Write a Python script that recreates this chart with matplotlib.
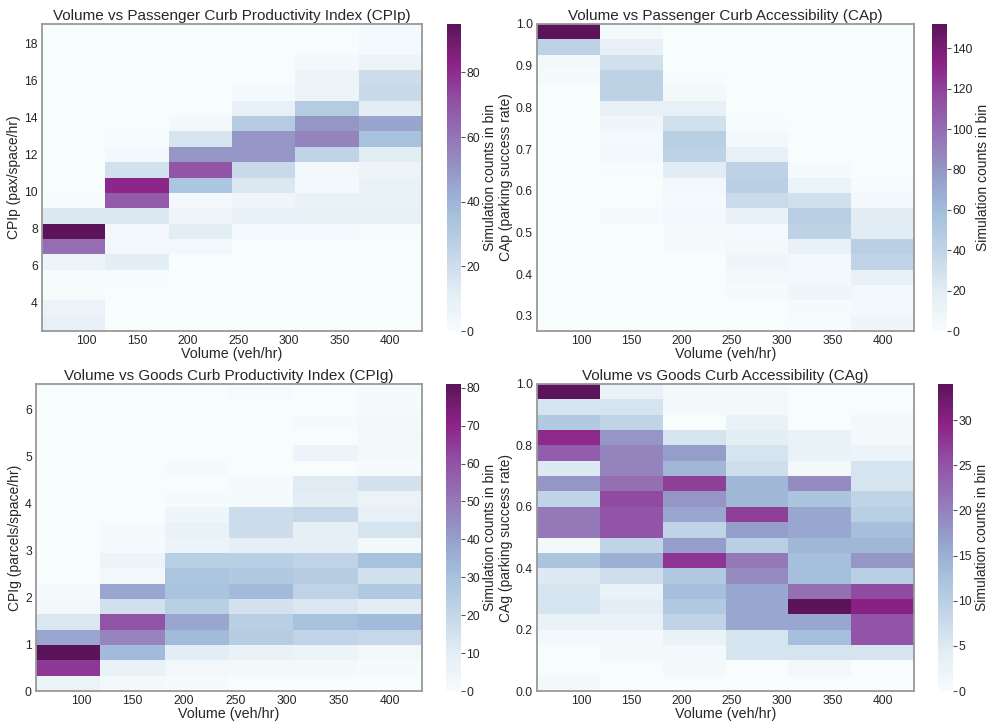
import numpy as np
import matplotlib
matplotlib.use('Agg')
import matplotlib.pyplot as plt

plt.rcParams['font.family'] = ['Liberation Sans', 'DejaVu Sans']
plt.rcParams['text.color'] = '#262626'
plt.rcParams['axes.labelcolor'] = '#262626'
plt.rcParams['xtick.color'] = '#262626'
plt.rcParams['ytick.color'] = '#262626'

# volume bins (veh/hr) - 6 columns
vol_range = (56.25, 431.25)
vol_ticks = [100, 150, 200, 250, 300, 350, 400]

# counts per bin, rows listed top -> bottom, columns = volume bins
cpip_counts = [
    [0, 0, 0, 0, 0, 2],
    [0, 0, 0, 0, 0, 2],
    [0, 0, 0, 0, 3, 6],
    [0, 0, 0, 0, 6, 20],
    [0, 0, 0, 2, 6, 22],
    [0, 0, 0, 10, 30, 12],
    [0, 0, 3, 30, 50, 45],
    [0, 1, 17, 50, 56, 35],
    [0, 3, 50, 50, 25, 12],
    [0, 18, 70, 22, 4, 6],
    [0, 82, 33, 15, 3, 8],
    [1, 68, 4, 5, 8, 8],
    [15, 15, 5, 10, 9, 9],
    [95, 4, 12, 2, 2, 1],
    [62, 4, 4, 0, 0, 0],
    [6, 11, 0, 0, 0, 0],
    [1, 1, 0, 0, 0, 0],
    [1, 0, 0, 0, 0, 0],
    [7, 0, 0, 0, 0, 0],
    [10, 0, 0, 0, 0, 0],
]
cpip_range = (2.45, 19.07)

cap_counts = [
    [152, 4, 0, 0, 0, 0],
    [42, 15, 0, 0, 0, 0],
    [4, 30, 0, 0, 0, 0],
    [2, 42, 1, 0, 0, 0],
    [0, 42, 4, 0, 0, 0],
    [0, 15, 15, 0, 0, 0],
    [0, 8, 30, 1, 0, 0],
    [0, 3, 45, 4, 0, 0],
    [0, 5, 42, 15, 0, 0],
    [0, 1, 20, 42, 2, 0],
    [0, 0, 6, 45, 12, 1],
    [0, 0, 3, 35, 30, 5],
    [0, 2, 6, 14, 45, 20],
    [0, 0, 2, 3, 42, 20],
    [0, 0, 2, 4, 14, 45],
    [0, 0, 0, 8, 5, 40],
    [0, 0, 0, 4, 6, 15],
    [0, 0, 0, 2, 8, 6],
    [0, 0, 0, 0, 2, 5],
    [0, 0, 0, 0, 1, 8],
]
cap_range = (0.264, 1.0)

cpig_counts = [
    [0, 0, 0, 1, 0, 1],
    [0, 0, 0, 0, 0, 1],
    [0, 0, 0, 0, 1, 2],
    [0, 0, 0, 0, 0, 3],
    [0, 0, 0, 0, 5, 2],
    [0, 0, 1, 0, 0, 1],
    [0, 0, 0, 1, 11, 15],
    [0, 0, 1, 1, 10, 6],
    [0, 0, 4, 18, 20, 8],
    [0, 1, 7, 17, 9, 14],
    [0, 1, 5, 9, 9, 2],
    [0, 5, 24, 24, 22, 30],
    [0, 3, 28, 26, 25, 16],
    [1, 38, 29, 32, 22, 26],
    [2, 16, 24, 15, 13, 10],
    [13, 60, 38, 24, 30, 32],
    [38, 47, 32, 25, 21, 20],
    [81, 32, 10, 7, 5, 3],
    [66, 7, 3, 2, 2, 1],
    [6, 2, 1, 0, 0, 0],
]
cpig_range = (0.0, 6.55)

cag_counts = [
    [34, 3, 1, 1, 0, 0],
    [6, 6, 1, 1, 0, 0],
    [11, 9, 0, 3, 0, 1],
    [29, 18, 6, 4, 3, 1],
    [24, 20, 17, 6, 3, 2],
    [5, 20, 14, 7, 1, 6],
    [18, 22, 27, 14, 19, 6],
    [9, 26, 18, 14, 12, 9],
    [21, 25, 16, 27, 16, 10],
    [21, 25, 9, 17, 16, 13],
    [1, 9, 17, 10, 14, 14],
    [12, 15, 28, 21, 13, 18],
    [5, 7, 11, 19, 13, 10],
    [6, 3, 13, 16, 22, 26],
    [6, 4, 11, 16, 34, 30],
    [3, 3, 9, 16, 16, 25],
    [1, 1, 3, 6, 13, 25],
    [0, 1, 1, 6, 6, 6],
    [0, 0, 1, 0, 1, 0],
    [1, 0, 0, 0, 0, 0],
]
cag_range = (0.0, 1.0)

titles = ['Volume vs Passenger Curb Productivity Index (CPIp)',
          'Volume vs Passenger Curb Accessibility (CAp)',
          'Volume vs Goods Curb Productivity Index (CPIg)',
          'Volume vs Goods Curb Accessibility (CAg)']
ylabels = ['CPIp (pax/space/hr)', 'CAp (parking success rate)',
           'CPIg (parcels/space/hr)', 'CAg (parking success rate)']
yticks_list = [[4, 6, 8, 10, 12, 14, 16, 18],
               [0.3, 0.4, 0.5, 0.6, 0.7, 0.8, 0.9, 1.0],
               [0, 1, 2, 3, 4, 5, 6],
               [0.0, 0.2, 0.4, 0.6, 0.8, 1.0]]
cticks_list = [[0, 20, 40, 60, 80],
               [0, 20, 40, 60, 80, 100, 120, 140],
               [0, 10, 20, 30, 40, 50, 60, 70, 80],
               [0, 5, 10, 15, 20, 25, 30]]

W, H = 991, 725
# axes / colorbar boxes in pixels: left, top, right, bottom
ax_boxes = [(42, 24, 422, 331), (537, 24, 914, 331),
            (36, 384, 422, 691), (537, 384, 914, 691)]
cb_boxes = [(447, 24, 461, 331), (932, 24, 947, 331),
            (446, 384, 461, 691), (938, 384, 953, 691)]


def box(b):
    l, t, r, btm = b
    return [l / W, 1 - btm / H, (r - l) / W, (btm - t) / H]


fig = plt.figure(figsize=(W / 100, H / 100), dpi=100)

data = [(cpip_counts, cpip_range), (cap_counts, cap_range),
        (cpig_counts, cpig_range), (cag_counts, cag_range)]

for i, (counts, yr) in enumerate(data):
    c = np.flipud(np.array(counts, dtype=float))
    xedges = np.linspace(vol_range[0], vol_range[1], c.shape[1] + 1)
    yedges = np.linspace(yr[0], yr[1], c.shape[0] + 1)
    ax = fig.add_axes(box(ax_boxes[i]))
    mesh = ax.pcolormesh(xedges, yedges, c, cmap='BuPu', vmin=0, vmax=c.max(),
                         alpha=0.92, linewidth=0, antialiased=False)
    ax.set_xlim(vol_range)
    ax.set_ylim(yr)
    ax.set_xticks(vol_ticks)
    ax.set_yticks(yticks_list[i])
    ax.tick_params(length=0, labelsize=8.7, pad=3)
    for s in ax.spines.values():
        s.set_color('#999999')
        s.set_linewidth(1.3)
    ax.set_title(titles[i], fontsize=11, pad=3)
    ax.set_xlabel('Volume (veh/hr)', fontsize=10.3, labelpad=0)
    ax.set_ylabel(ylabels[i], fontsize=10, labelpad=2)

    cax = fig.add_axes(box(cb_boxes[i]))
    cb = fig.colorbar(mesh, cax=cax)
    cb.outline.set_visible(False)
    cb.set_ticks(cticks_list[i])
    cb.ax.tick_params(length=3, width=0.8, labelsize=8.7, pad=1, color='#555555')
    cb.set_label('Simulation counts in bin', fontsize=10, labelpad=2)

fig.savefig('out.png', dpi=100)
